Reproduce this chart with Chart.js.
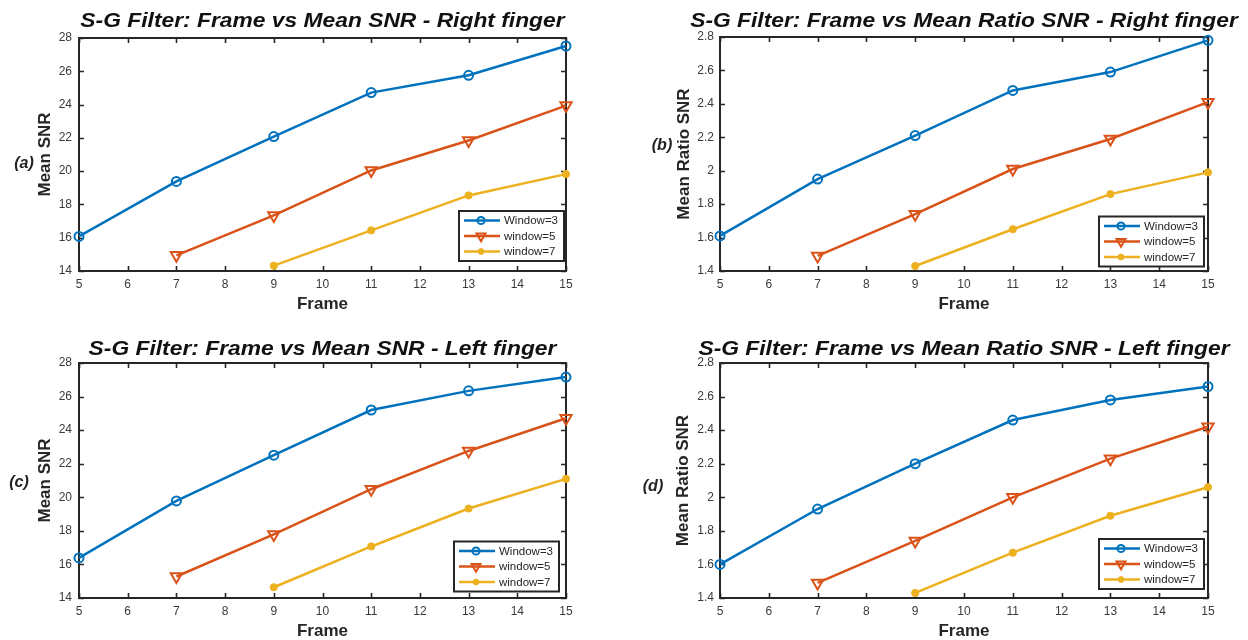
<!DOCTYPE html>
<html><head><meta charset="utf-8">
<script src="https://cdn.jsdelivr.net/npm/chart.js@4/dist/chart.umd.min.js"></script>
<style>
html,body{margin:0;padding:0;background:#fff;width:1248px;height:640px;overflow:hidden;position:relative}
canvas{position:absolute}
.tag{position:absolute;font:italic bold 16px "Liberation Sans",Arial,sans-serif;color:#222;transform:translate(-50%,-50%);white-space:nowrap}
</style></head><body>
<canvas id="ca"></canvas><canvas id="cb"></canvas><canvas id="cc"></canvas><canvas id="cd"></canvas>
<div class="tag" style="left:24px;top:163px">(a)</div>
<div class="tag" style="left:662px;top:145px">(b)</div>
<div class="tag" style="left:19px;top:482px">(c)</div>
<div class="tag" style="left:653px;top:486px">(d)</div>
<script>
// ---- data ----
const frames = [5, 7, 9, 11, 13, 15];
const seriesLabels = ['Window=3', 'window=5', 'window=7'];
const xAxisLabel = 'Frame';

const titleA = 'S-G Filter: Frame vs Mean SNR - Right finger';
const titleB = 'S-G Filter: Frame vs Mean Ratio SNR - Right finger';
const titleC = 'S-G Filter: Frame vs Mean SNR - Left finger';
const titleD = 'S-G Filter: Frame vs Mean Ratio SNR - Left finger';
const yLabelSNR = 'Mean SNR';
const yLabelRatio = 'Mean Ratio SNR';

const rightSNR_w3 = [16.08, 19.38, 22.08, 24.72, 25.76, 27.52];
const rightSNR_w5 = [null, 14.94, 17.34, 20.04, 21.84, 23.94];
const rightSNR_w7 = [null, null, 14.32, 16.44, 18.54, 19.82];

const rightRatio_w3 = [1.61, 1.95, 2.21, 2.48, 2.59, 2.78];
const rightRatio_w5 = [null, 1.49, 1.74, 2.01, 2.19, 2.41];
const rightRatio_w7 = [null, null, 1.43, 1.65, 1.86, 1.99];

const leftSNR_w3 = [16.39, 19.78, 22.51, 25.2, 26.34, 27.16];
const leftSNR_w5 = [null, 15.28, 17.79, 20.48, 22.76, 24.71];
const leftSNR_w7 = [null, null, 14.64, 17.07, 19.33, 21.1];

const leftRatio_w3 = [1.60, 1.93, 2.20, 2.46, 2.58, 2.66];
const leftRatio_w5 = [null, 1.49, 1.74, 2.00, 2.23, 2.42];
const leftRatio_w7 = [null, null, 1.43, 1.67, 1.89, 2.06];

const snrTicks = {min: 14, max: 28, step: 2};
const ratioTicks = {min: 1.4, max: 2.8, step: 0.2};
const frameTicks = {min: 5, max: 15, step: 1};

// ---- styles / layout ----
const FONT = '"Liberation Sans", Arial, Helvetica, sans-serif';
const seriesStyle = [
  {color: '#0072BD', pointStyle: 'circle', radius: 4.5, rotation: 0, fill: 'rgba(0,0,0,0)', bw: 2},
  {color: '#D95319', pointStyle: 'triangle', radius: 6.5, rotation: 180, fill: 'rgba(0,0,0,0)', bw: 2},
  {color: '#EDB120', pointStyle: 'circle', radius: 3.6, rotation: 0, fill: '#EDB120', bw: 1}
];

const panels = [
  {canvas: 'ca', left: 0, top: 0, w: 624, h: 320, area: {l: 79, r: 566, t: 38, b: 271},
   title: titleA, titleBase: 26.7, yLabel: yLabelSNR, yt: snrTicks, series: [rightSNR_w3, rightSNR_w5, rightSNR_w7],
   yTitlePad: 36.5, xTitlePad: 7.5, yTickPad: 7, xTickPad: 6.3, legend: {rg: 2, bg: 10}},
  {canvas: 'cb', left: 624, top: 0, w: 624, h: 320, area: {l: 96, r: 584, t: 37, b: 271},
   title: titleB, titleBase: 26.7, yLabel: yLabelRatio, yt: ratioTicks, series: [rightRatio_w3, rightRatio_w5, rightRatio_w7],
   yTitlePad: 51.5, xTitlePad: 7.5, yTickPad: 6, xTickPad: 6.3, legend: {rg: 4, bg: 4.5}},
  {canvas: 'cc', left: 0, top: 320, w: 624, h: 320, area: {l: 79, r: 566, t: 43, b: 278},
   title: titleC, titleBase: 35, yLabel: yLabelSNR, yt: snrTicks, series: [leftSNR_w3, leftSNR_w5, leftSNR_w7],
   yTitlePad: 36.5, xTitlePad: 0, yTickPad: 7, xTickPad: 6.8, legend: {rg: 7, bg: 6.5}},
  {canvas: 'cd', left: 624, top: 320, w: 624, h: 320, area: {l: 96, r: 584, t: 43, b: 278},
   title: titleD, titleBase: 35, yLabel: yLabelRatio, yt: ratioTicks, series: [leftRatio_w3, leftRatio_w5, leftRatio_w7],
   yTitlePad: 50.5, xTitlePad: 0, yTickPad: 6, xTickPad: 6.8, legend: {rg: 4, bg: 9}}
];

// ---- plugins ----
const framePlugin = {
  id: 'matFrame',
  beforeDatasetsDraw(chart) {
    const {ctx, chartArea: {left, right, top, bottom}, scales: {x, y}} = chart;
    ctx.save();
    ctx.strokeStyle = '#262626';
    ctx.lineWidth = 1.6;
    ctx.beginPath();
    x.ticks.forEach(t => {
      const px = Math.round(x.getPixelForValue(t.value)) + 0.5;
      ctx.moveTo(px, bottom); ctx.lineTo(px, bottom - 5);
      ctx.moveTo(px, top); ctx.lineTo(px, top + 5);
    });
    y.ticks.forEach(t => {
      const py = Math.round(y.getPixelForValue(t.value)) + 0.5;
      ctx.moveTo(left, py); ctx.lineTo(left + 5, py);
      ctx.moveTo(right, py); ctx.lineTo(right - 5, py);
    });
    ctx.stroke();
    ctx.lineWidth = 2;
    ctx.strokeRect(left, top, right - left, bottom - top);
    ctx.restore();
  }
};

const titlePlugin = {
  id: 'matTitle',
  afterDraw(chart, args, opts) {
    const {ctx, chartArea: {left, right}} = chart;
    ctx.save();
    ctx.font = 'italic bold 19.5px ' + FONT;
    ctx.fillStyle = '#111';
    ctx.textAlign = 'center';
    ctx.textBaseline = 'alphabetic';
    ctx.translate((left + right) / 2, opts.base);
    ctx.scale(1.17, 1);
    ctx.fillText(opts.text, 0, 0);
    ctx.restore();
  }
};

const legendPlugin = {
  id: 'matLegend',
  afterDatasetsDraw(chart, args, opts) {
    const {ctx, chartArea: {right, bottom}} = chart;
    const w = 105, h = 50;
    const bx = right - opts.rg - w, by = bottom - opts.bg - h;
    ctx.save();
    ctx.fillStyle = '#fff';
    ctx.fillRect(bx, by, w, h);
    ctx.strokeStyle = '#262626';
    ctx.lineWidth = 2;
    ctx.strokeRect(bx, by, w, h);
    chart.data.datasets.forEach((ds, i) => {
      const ry = by + 9.5 + i * 15.5;
      ctx.strokeStyle = ds.borderColor;
      ctx.lineWidth = 2.5;
      ctx.beginPath();
      ctx.moveTo(bx + 5, ry); ctx.lineTo(bx + 41, ry);
      ctx.stroke();
      ctx.fillStyle = ds.pointBackgroundColor;
      ctx.strokeStyle = ds.pointBorderColor;
      ctx.lineWidth = ds.pointBorderWidth;
      Chart.helpers.drawPoint(ctx, {pointStyle: ds.pointStyle, radius: ds.pointRadius * 0.8,
        rotation: ds.pointRotation, borderWidth: ds.pointBorderWidth}, bx + 22, ry);
      ctx.fillStyle = '#262626';
      ctx.font = '11.5px ' + FONT;
      ctx.textAlign = 'left';
      ctx.textBaseline = 'middle';
      ctx.fillText(ds.label, bx + 45, ry + 0.5);
    });
    ctx.restore();
  }
};

const tickFmt = v => String(Number(v.toFixed(1)));

// ---- build charts ----
panels.forEach(p => {
  const cv = document.getElementById(p.canvas);
  cv.style.left = p.left + 'px';
  cv.style.top = p.top + 'px';
  cv.style.width = p.w + 'px';
  cv.style.height = p.h + 'px';
  cv.width = p.w; cv.height = p.h;

  const datasets = p.series.map((arr, i) => {
    const s = seriesStyle[i];
    const pts = [];
    frames.forEach((f, j) => { if (arr[j] !== null) pts.push({x: f, y: arr[j]}); });
    return {
      label: seriesLabels[i], data: pts,
      borderColor: s.color, backgroundColor: s.color, borderWidth: 2.5,
      pointStyle: s.pointStyle, pointRadius: s.radius, pointRotation: s.rotation,
      pointBackgroundColor: s.fill, pointBorderColor: s.color, pointBorderWidth: s.bw,
      tension: 0, clip: false, fill: false
    };
  });

  new Chart(cv, {
    type: 'line',
    data: {datasets},
    options: {
      responsive: false, animation: false, events: [],
      layout: {padding: {left: 0, top: p.area.t, right: p.w - p.area.r, bottom: 0}},
      plugins: {
        legend: {display: false}, title: {display: false}, tooltip: {enabled: false},
        matTitle: {text: p.title, base: p.titleBase},
        matLegend: p.legend
      },
      scales: {
        x: {
          type: 'linear', min: frameTicks.min, max: frameTicks.max,
          grid: {display: false, drawTicks: false}, border: {display: false},
          ticks: {stepSize: frameTicks.step, padding: p.xTickPad, color: '#3a3a3a', font: {family: FONT, size: 12}, maxRotation: 0, callback: tickFmt},
          title: {display: true, text: xAxisLabel, color: '#262626', font: {family: FONT, size: 17, weight: 'bold', lineHeight: 1}, padding: {top: 0, bottom: p.xTitlePad}},
          afterFit: s => { s.height = p.h - p.area.b; }
        },
        y: {
          type: 'linear', min: p.yt.min, max: p.yt.max,
          grid: {display: false, drawTicks: false}, border: {display: false},
          ticks: {stepSize: p.yt.step, padding: p.yTickPad, color: '#3a3a3a', font: {family: FONT, size: 12}, callback: tickFmt},
          title: {display: true, text: p.yLabel, color: '#262626', font: {family: FONT, size: 17, weight: 'bold', lineHeight: 1}, padding: {top: p.yTitlePad, bottom: 0}},
          afterFit: s => { s.width = p.area.l; }
        }
      }
    },
    plugins: [framePlugin, titlePlugin, legendPlugin]
  });
});
</script>
</body></html>
